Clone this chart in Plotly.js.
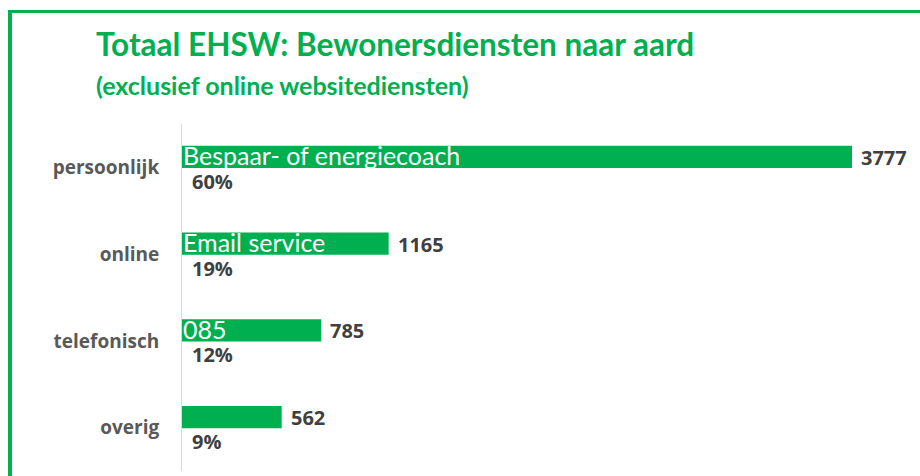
<!DOCTYPE html>
<html><head><meta charset="utf-8">
<script src="https://cdn.plot.ly/plotly-3.0.1.min.js"></script>
<style>html,body{margin:0;padding:0;background:#fff;}#chart{width:920px;height:476px;}</style>
</head><body><div id="chart"></div>
<script>
const categories = ["persoonlijk", "online", "telefonisch", "overig"];
const values = [3777, 1165, 785, 562];
const barLabels = ["Bespaar- of energiecoach", "Email service", "085", ""];
const percentLabels = ["60%", "19%", "12%", "9%"];

const GREEN = "#00B050";
const L = 182, R = 10, T = 124, B = 5, W = 920, H = 476;
const pw = W - L - R, ph = H - T - B;
const px = x => (x - L) / pw;
const py = y => (H - B - y) / ph;

const annotations = [];
categories.forEach((c, i) => {
  if (barLabels[i]) annotations.push({x: 0, y: c, xref: 'x', yref: 'y', text: barLabels[i], showarrow: false,
    xanchor: 'left', yanchor: 'middle', xshift: -1, yshift: 12,
    font: {family: 'Lato, sans-serif', size: 25, color: '#ffffff'}});
  annotations.push({x: values[i], y: c, xref: 'x', yref: 'y', text: String(values[i]), showarrow: false,
    xanchor: 'left', yanchor: 'middle', xshift: 7, yshift: 10,
    font: {family: 'Open Sans, sans-serif', size: 20, color: '#404040', weight: 'bold'}});
  annotations.push({x: 0, y: c, xref: 'x', yref: 'y', text: percentLabels[i], showarrow: false,
    xanchor: 'left', yanchor: 'middle', xshift: 8, yshift: -14,
    font: {family: 'Open Sans, sans-serif', size: 20, color: '#404040', weight: 'bold'}});
});
annotations.push({x: px(94), y: py(44), xref: 'paper', yref: 'paper', text: '<b>Totaal EHSW: Bewonersdiensten naar aard</b>',
  showarrow: false, xanchor: 'left', yanchor: 'middle', font: {family: 'Lato, sans-serif', size: 31.5, color: GREEN}});
annotations.push({x: px(94), y: py(85), xref: 'paper', yref: 'paper', text: '<b>(exclusief online websitediensten)</b>',
  showarrow: false, xanchor: 'left', yanchor: 'middle', font: {family: 'Lato, sans-serif', size: 25, color: GREEN}});

const data = [{
  type: 'bar', orientation: 'h', y: categories, x: values,
  marker: {color: GREEN, line: {width: 0}},
  width: 0.254, offset: -0.248, hoverinfo: 'none'
}];

const layout = {
  width: W, height: H,
  margin: {l: L, r: R, t: T, b: B},
  paper_bgcolor: '#fff', plot_bgcolor: '#fff',
  showlegend: false,
  xaxis: {range: [0, pw / (670 / 3777)], visible: false, fixedrange: true},
  yaxis: {type: 'category', autorange: 'reversed', showline: true, linecolor: '#d9d9d9', linewidth: 1,
    showgrid: false, zeroline: false, ticks: '', ticklabelstandoff: 18,
    tickfont: {family: 'Open Sans, sans-serif', size: 19, color: '#595959', weight: 'bold'}},
  annotations: annotations,
  shapes: [
    {type: 'line', xref: 'paper', yref: 'paper', x0: px(10), x1: px(10), y0: py(10), y1: py(480), line: {color: GREEN, width: 4}},
    {type: 'line', xref: 'paper', yref: 'paper', x0: px(8), x1: px(925), y0: py(11.5), y1: py(11.5), line: {color: GREEN, width: 3}}
  ]
};
Plotly.newPlot('chart', data, layout, {staticPlot: true, displayModeBar: false});
</script></body></html>
